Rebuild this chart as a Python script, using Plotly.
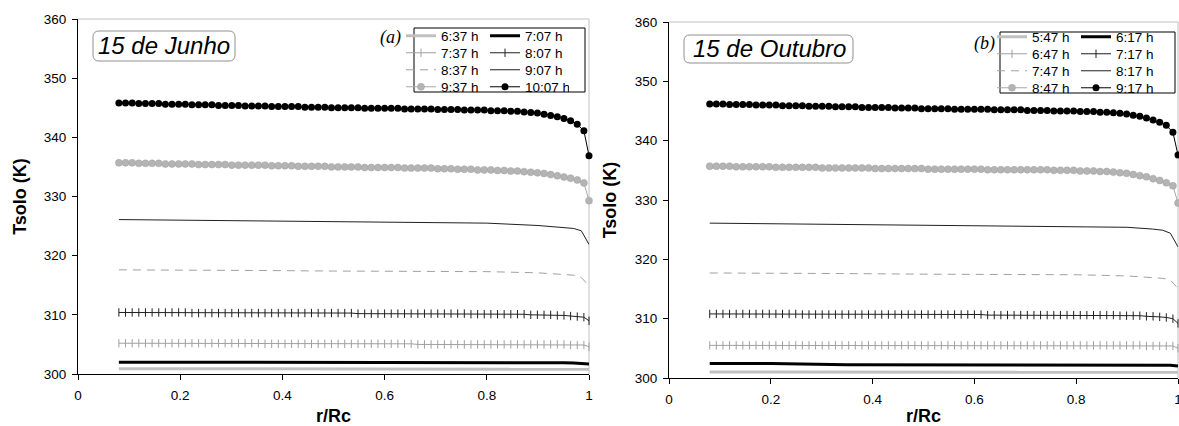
import plotly.graph_objects as go

W, H = 1179, 426

# ---------------- data ----------------
# radial positions for the series drawn with markers
R_M = [0.080, 0.093, 0.106, 0.119, 0.132, 0.145, 0.158, 0.171, 0.184, 0.197,
       0.210, 0.223, 0.236, 0.249, 0.262, 0.275, 0.288, 0.301, 0.314, 0.327,
       0.340, 0.353, 0.366, 0.379, 0.392, 0.405, 0.418, 0.431, 0.444, 0.457,
       0.470, 0.483, 0.496, 0.509, 0.522, 0.535, 0.548, 0.561, 0.574, 0.587,
       0.600, 0.613, 0.626, 0.639, 0.652, 0.665, 0.678, 0.691, 0.704, 0.717,
       0.730, 0.743, 0.756, 0.769, 0.782, 0.795, 0.808, 0.821, 0.834, 0.847,
       0.860, 0.873, 0.886, 0.899, 0.912, 0.925, 0.938, 0.951, 0.964, 0.977,
       0.990, 1.000]
# radial positions for the plain line series
R_L = [0.08, 0.2, 0.35, 0.5, 0.65, 0.8, 0.9, 0.95, 0.97, 0.985, 1.0]

JUN_LABELS = ["6:37 h", "7:07 h", "7:37 h", "8:07 h", "8:37 h", "9:07 h", "9:37 h", "10:07 h"]
OUT_LABELS = ["5:47 h", "6:17 h", "6:47 h", "7:17 h", "7:47 h", "8:17 h", "8:47 h", "9:17 h"]

X_TICKS = [0, 0.2, 0.4, 0.6, 0.8, 1]
X_TICK_TEXT = ["0", "0.2", "0.4", "0.6", "0.8", "1"]
Y_TICKS = [300, 310, 320, 330, 340, 350, 360]

# ---- 15 de Junho ----
JUN_0637 = [300.9, 300.9, 300.9, 300.9, 300.9, 300.9, 300.9, 300.9, 300.9, 300.85, 300.8]
JUN_0707 = [302.0, 302.0, 302.0, 302.0, 302.0, 301.95, 301.9, 301.9, 301.85, 301.8, 301.7]
JUN_0737 = [305.2, 305.2, 305.2, 305.2, 305.2, 305.2, 305.2, 305.2, 305.2, 305.2,
            305.2, 305.2, 305.2, 305.2, 305.2, 305.2, 305.2, 305.2, 305.2, 305.2,
            305.2, 305.2, 305.1, 305.1, 305.1, 305.1, 305.1, 305.1, 305.1, 305.1,
            305.1, 305.1, 305.1, 305.1, 305.1, 305.1, 305.1, 305.1, 305.1, 305.1,
            305.1, 305.1, 305.1, 305.1, 305.1, 305.0, 305.0, 305.0, 305.0, 305.0,
            305.0, 305.0, 305.0, 305.0, 305.0, 305.0, 305.0, 305.0, 305.0, 305.0,
            305.0, 305.0, 305.0, 305.0, 305.0, 305.0, 305.0, 305.0, 304.9, 304.9,
            304.9, 304.6]
JUN_0807 = [310.4, 310.4, 310.4, 310.4, 310.4, 310.4, 310.4, 310.4, 310.4, 310.4,
            310.4, 310.3, 310.3, 310.3, 310.3, 310.3, 310.3, 310.3, 310.3, 310.3,
            310.3, 310.3, 310.3, 310.3, 310.3, 310.3, 310.3, 310.3, 310.3, 310.3,
            310.3, 310.3, 310.3, 310.3, 310.3, 310.3, 310.2, 310.2, 310.2, 310.2,
            310.2, 310.2, 310.2, 310.2, 310.2, 310.2, 310.2, 310.2, 310.2, 310.2,
            310.2, 310.2, 310.2, 310.1, 310.1, 310.1, 310.1, 310.1, 310.1, 310.1,
            310.1, 310.1, 310.0, 310.0, 310.0, 310.0, 309.9, 309.9, 309.8, 309.7,
            309.6, 309.0]
JUN_0837 = [317.6, 317.6, 317.5, 317.4, 317.4, 317.3, 317.1, 316.9, 316.7, 316.3, 314.9]
JUN_0907 = [326.1, 326.0, 325.9, 325.8, 325.6, 325.5, 325.1, 324.8, 324.6, 324.2, 321.9]
JUN_0937 = [335.7, 335.7, 335.7, 335.6, 335.6, 335.6, 335.6, 335.5, 335.5, 335.5,
            335.5, 335.5, 335.4, 335.4, 335.4, 335.4, 335.4, 335.3, 335.3, 335.3,
            335.3, 335.3, 335.3, 335.2, 335.2, 335.2, 335.2, 335.1, 335.1, 335.1,
            335.1, 335.1, 335.0, 335.0, 335.0, 335.0, 335.0, 334.9, 334.9, 334.9,
            334.9, 334.9, 334.9, 334.8, 334.8, 334.8, 334.8, 334.8, 334.7, 334.7,
            334.7, 334.6, 334.6, 334.6, 334.5, 334.5, 334.5, 334.4, 334.4, 334.3,
            334.3, 334.2, 334.1, 334.0, 333.9, 333.7, 333.5, 333.3, 333.1, 332.8,
            332.3, 329.3]
JUN_1007 = [345.8, 345.8, 345.8, 345.7, 345.7, 345.7, 345.7, 345.6, 345.6, 345.6,
            345.6, 345.5, 345.5, 345.5, 345.5, 345.4, 345.4, 345.4, 345.4, 345.3,
            345.3, 345.3, 345.3, 345.2, 345.2, 345.2, 345.2, 345.2, 345.1, 345.1,
            345.1, 345.1, 345.0, 345.0, 345.0, 345.0, 345.0, 344.9, 344.9, 344.9,
            344.9, 344.9, 344.9, 344.8, 344.8, 344.8, 344.8, 344.8, 344.7, 344.7,
            344.7, 344.7, 344.6, 344.6, 344.6, 344.6, 344.5, 344.5, 344.5, 344.4,
            344.4, 344.3, 344.2, 344.1, 343.9, 343.7, 343.5, 343.2, 342.8, 342.2,
            341.1, 336.9]

# ---- 15 de Outubro ----
OUT_0547 = [301.0, 301.0, 301.0, 301.0, 301.0, 301.0, 301.0, 301.0, 301.0, 301.0, 300.95]
OUT_0617 = [302.45, 302.45, 302.25, 302.25, 302.25, 302.25, 302.2, 302.2, 302.2, 302.15, 302.0]
OUT_0647 = [305.5, 305.5, 305.5, 305.5, 305.5, 305.5, 305.5, 305.5, 305.5, 305.5,
            305.5, 305.5, 305.5, 305.5, 305.5, 305.5, 305.5, 305.5, 305.5, 305.5,
            305.5, 305.5, 305.5, 305.5, 305.5, 305.5, 305.5, 305.5, 305.5, 305.5,
            305.5, 305.5, 305.5, 305.5, 305.5, 305.5, 305.5, 305.5, 305.5, 305.5,
            305.5, 305.5, 305.5, 305.5, 305.5, 305.5, 305.5, 305.5, 305.5, 305.5,
            305.5, 305.5, 305.5, 305.5, 305.5, 305.5, 305.5, 305.5, 305.5, 305.5,
            305.5, 305.5, 305.5, 305.5, 305.5, 305.5, 305.4, 305.4, 305.4, 305.4,
            305.4, 305.0]
OUT_0717 = [310.8, 310.8, 310.8, 310.8, 310.8, 310.8, 310.8, 310.8, 310.8, 310.8,
            310.8, 310.8, 310.8, 310.8, 310.7, 310.7, 310.7, 310.7, 310.7, 310.7,
            310.7, 310.7, 310.7, 310.7, 310.7, 310.7, 310.7, 310.7, 310.7, 310.7,
            310.7, 310.7, 310.7, 310.7, 310.7, 310.7, 310.7, 310.7, 310.7, 310.7,
            310.7, 310.7, 310.6, 310.6, 310.6, 310.6, 310.6, 310.6, 310.6, 310.6,
            310.6, 310.6, 310.6, 310.6, 310.6, 310.6, 310.6, 310.6, 310.6, 310.6,
            310.6, 310.6, 310.5, 310.5, 310.5, 310.5, 310.4, 310.4, 310.3, 310.2,
            310.0, 309.2]
OUT_0747 = [317.7, 317.7, 317.6, 317.5, 317.5, 317.4, 317.2, 317.0, 316.8, 316.5, 315.1]
OUT_0817 = [326.1, 326.0, 325.9, 325.8, 325.7, 325.6, 325.4, 325.1, 324.9, 324.4, 322.1]
OUT_0847 = [335.7, 335.7, 335.7, 335.7, 335.6, 335.6, 335.6, 335.6, 335.6, 335.6,
            335.5, 335.5, 335.5, 335.5, 335.5, 335.5, 335.5, 335.4, 335.4, 335.4,
            335.4, 335.4, 335.4, 335.4, 335.4, 335.3, 335.3, 335.3, 335.3, 335.3,
            335.3, 335.3, 335.3, 335.2, 335.2, 335.2, 335.2, 335.2, 335.2, 335.2,
            335.2, 335.2, 335.1, 335.1, 335.1, 335.1, 335.1, 335.1, 335.1, 335.1,
            335.1, 335.1, 335.0, 335.0, 335.0, 335.0, 334.9, 334.9, 334.9, 334.8,
            334.8, 334.7, 334.6, 334.5, 334.3, 334.1, 333.9, 333.6, 333.3, 332.9,
            332.4, 329.5]
OUT_0917 = [346.2, 346.2, 346.2, 346.1, 346.1, 346.1, 346.1, 346.0, 346.0, 346.0,
            346.0, 345.9, 345.9, 345.9, 345.9, 345.8, 345.8, 345.8, 345.8, 345.7,
            345.7, 345.7, 345.7, 345.6, 345.6, 345.6, 345.6, 345.6, 345.5, 345.5,
            345.5, 345.5, 345.4, 345.4, 345.4, 345.4, 345.4, 345.3, 345.3, 345.3,
            345.3, 345.3, 345.3, 345.2, 345.2, 345.2, 345.2, 345.2, 345.1, 345.1,
            345.1, 345.1, 345.0, 345.0, 345.0, 345.0, 344.9, 344.9, 344.9, 344.8,
            344.8, 344.7, 344.6, 344.5, 344.3, 344.1, 343.8, 343.5, 343.1, 342.6,
            341.4, 337.6]

JUN_SERIES = [(R_L, JUN_0637), (R_L, JUN_0707), (R_M, JUN_0737), (R_M, JUN_0807),
              (R_L, JUN_0837), (R_L, JUN_0907), (R_M, JUN_0937), (R_M, JUN_1007)]
OUT_SERIES = [(R_L, OUT_0547), (R_L, OUT_0617), (R_M, OUT_0647), (R_M, OUT_0717),
              (R_L, OUT_0747), (R_L, OUT_0817), (R_M, OUT_0847), (R_M, OUT_0917)]

# ---------------- styles ----------------
STYLES = [
    dict(mode="lines", line=dict(color="#c0c0c0", width=3)),
    dict(mode="lines", line=dict(color="#000000", width=3)),
    dict(mode="lines+markers", line=dict(color="#a0a0a0", width=1),
         marker=dict(symbol="line-ns-open", size=6, line=dict(color="#a0a0a0", width=1))),
    dict(mode="lines+markers", line=dict(color="#202020", width=1),
         marker=dict(symbol="line-ns-open", size=6, line=dict(color="#202020", width=1))),
    dict(mode="lines", line=dict(color="#a0a0a0", width=1, dash="8px,6px")),
    dict(mode="lines", line=dict(color="#202020", width=1)),
    dict(mode="lines+markers", line=dict(color="#a8a8a8", width=1),
         marker=dict(symbol="circle", size=7, color="#b4b4b4", line=dict(color="#a0a0a0", width=0.5))),
    dict(mode="lines+markers", line=dict(color="#000000", width=1),
         marker=dict(symbol="circle", size=7, color="#000000")),
]

FONT = "Liberation Sans, Arial, sans-serif"

fig = go.Figure()

JUN_LEGENDS = ["legend", "legend2", "legend3", "legend4"]
OUT_LEGENDS = ["legend5", "legend6", "legend7", "legend8"]


def add_panel(series, labels, xa, ya, legends):
    for i, ((rr, tt), lab) in enumerate(zip(series, labels)):
        st = STYLES[i]
        fig.add_trace(go.Scatter(
            x=rr, y=tt, name=lab, xaxis=xa, yaxis=ya,
            legend=legends[i // 2],
            cliponaxis=False, hoverinfo="skip", **st))


add_panel(JUN_SERIES, JUN_LABELS, "x", "y", JUN_LEGENDS)
add_panel(OUT_SERIES, OUT_LABELS, "x2", "y2", OUT_LEGENDS)

# plot-area margins (pixels) and panel geometry (pixels)
M_L, M_R, M_T, M_B = 78, 1, 19, 48
PW, PH = W - M_L - M_R, H - M_T - M_B
L = dict(x0=78, x1=589, y0=19, y1=374)
R = dict(x0=669, x1=1178, y0=22, y1=378)


# pixel -> plotly "paper" coordinates (paper spans the area inside the margins)
def dx(x):
    return (x - M_L) / PW


def dy(y):
    return (H - M_B - y) / PH


axis_common = dict(showgrid=False, zeroline=False, showline=True, linecolor="black",
                   linewidth=1, ticks="outside", ticklen=5, tickcolor="black",
                   automargin=False, ticklabeloverflow="allow",
                   tickfont=dict(family=FONT, size=13.5, color="black"))
xaxis_extra = dict(ticklabelstandoff=4)
yaxis_extra = dict(ticklabelstandoff=3)

TITLE_FONT = dict(family=FONT, size=18, color="black")

fig.update_layout(
    width=W, height=H, margin=dict(l=M_L, r=M_R, t=M_T, b=M_B, pad=0),
    paper_bgcolor="white", plot_bgcolor="white",
    xaxis=dict(domain=[dx(L["x0"]), dx(L["x1"])], range=[0, 1], anchor="y",
               tickvals=X_TICKS, ticktext=X_TICK_TEXT,
               title=dict(text="<b>r/Rc</b>", font=TITLE_FONT, standoff=8),
               **axis_common, **xaxis_extra),
    yaxis=dict(domain=[dy(L["y1"]), dy(L["y0"])], range=[300, 360], anchor="x",
               tickvals=Y_TICKS,
               title=dict(text="<b>Tsolo (K)</b>", font=TITLE_FONT, standoff=11.5),
               **axis_common, **yaxis_extra),
    xaxis2=dict(domain=[dx(R["x0"]), dx(R["x1"])], range=[0, 1], anchor="y2",
                tickvals=X_TICKS, ticktext=X_TICK_TEXT,
                title=dict(text="<b>r/Rc</b>", font=TITLE_FONT, standoff=8),
                **axis_common, **xaxis_extra),
    yaxis2=dict(domain=[dy(R["y1"]), dy(R["y0"])], range=[300, 360], anchor="x2",
                tickvals=Y_TICKS,
                title=dict(text="<b>Tsolo (K)</b>", font=TITLE_FONT, standoff=13),
                **axis_common, **yaxis_extra),
)

# one horizontal legend per row (two entries each), so rows sit 17 px apart
leg_common = dict(font=dict(family=FONT, size=13.5, color="black"), bgcolor="rgba(0,0,0,0)",
                  borderwidth=0, yanchor="middle", xanchor="left", tracegroupgap=0,
                  itemwidth=30, orientation="h", entrywidth=39, entrywidthmode="pixels")
ROW_Y = [36, 53, 70, 87]
legend_layout = {}
for name, yy in zip(JUN_LEGENDS, ROW_Y):
    legend_layout[name] = dict(x=dx(401), y=dy(yy), **leg_common)
for name, yy in zip(OUT_LEGENDS, ROW_Y):
    legend_layout[name] = dict(x=dx(992), y=dy(yy + 1), **leg_common)
fig.update_layout(**legend_layout)

shapes = []
# light grey frame (top and right) of each plot area
for xr, yr in (("x domain", "y domain"), ("x2 domain", "y2 domain")):
    shapes.append(dict(type="line", xref=xr, yref=yr, x0=0, x1=1, y0=1, y1=1,
                       line=dict(color="#c0c0c0", width=1), layer="below"))
    shapes.append(dict(type="line", xref=xr, yref=yr, x0=1, x1=1, y0=0, y1=1,
                       line=dict(color="#c0c0c0", width=1), layer="below"))
# legend boxes
for (x0, y0, x1, y1) in ((414, 28, 585, 92), (1000, 32, 1175, 93)):
    shapes.append(dict(type="rect", xref="paper", yref="paper",
                       x0=dx(x0), x1=dx(x1), y0=dy(y1), y1=dy(y0),
                       line=dict(color="black", width=1), fillcolor="white", layer="below"))


def rounded(x0, y0, x1, y1, r):
    p = (f"M {dx(x0 + r)},{dy(y0)} L {dx(x1 - r)},{dy(y0)} "
         f"Q {dx(x1)},{dy(y0)} {dx(x1)},{dy(y0 + r)} L {dx(x1)},{dy(y1 - r)} "
         f"Q {dx(x1)},{dy(y1)} {dx(x1 - r)},{dy(y1)} L {dx(x0 + r)},{dy(y1)} "
         f"Q {dx(x0)},{dy(y1)} {dx(x0)},{dy(y1 - r)} L {dx(x0)},{dy(y0 + r)} "
         f"Q {dx(x0)},{dy(y0)} {dx(x0 + r)},{dy(y0)} Z")
    return dict(type="path", xref="paper", yref="paper", path=p,
                line=dict(color="#909090", width=1), fillcolor="white", layer="below")


shapes.append(rounded(93, 31, 235, 61, 6))
shapes.append(rounded(684, 35, 853, 63, 6))
fig.update_layout(shapes=shapes)

SERIF = "Liberation Serif, Times New Roman, serif"
annotations = [
    dict(text="<i>15 de Junho</i>", x=dx(164), y=dy(46), xref="paper", yref="paper",
         showarrow=False, font=dict(family=FONT, size=24, color="black"),
         xanchor="center", yanchor="middle"),
    dict(text="<i>15 de Outubro</i>", x=dx(769), y=dy(49), xref="paper", yref="paper",
         showarrow=False, font=dict(family=FONT, size=24, color="black"),
         xanchor="center", yanchor="middle"),
    dict(text="<i>(a)</i>", x=dx(390), y=dy(38), xref="paper", yref="paper",
         showarrow=False, font=dict(family=SERIF, size=18, color="black"),
         xanchor="center", yanchor="middle"),
    dict(text="<i>(b)</i>", x=dx(984), y=dy(43), xref="paper", yref="paper",
         showarrow=False, font=dict(family=SERIF, size=18, color="black"),
         xanchor="center", yanchor="middle"),
]
fig.update_layout(annotations=annotations)

fig.write_html("out.html")
